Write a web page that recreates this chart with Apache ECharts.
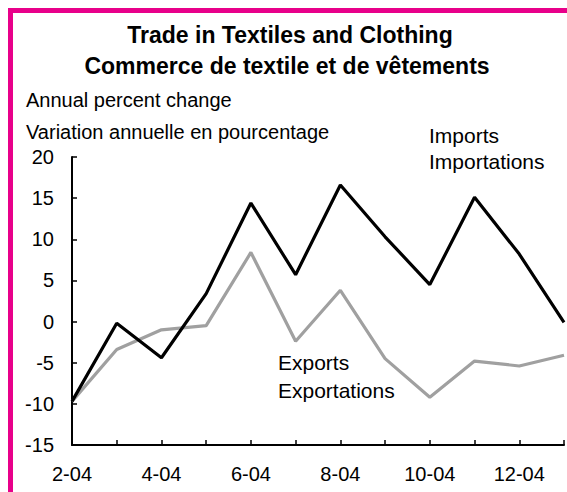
<!DOCTYPE html>
<html>
<head>
<meta charset="utf-8">
<script src="https://cdn.jsdelivr.net/npm/echarts@6/dist/echarts.min.js"></script>
<style>
  html, body { margin: 0; padding: 0; background: #ffffff; }
  #frame { position: absolute; left: 0; top: 0; width: 567px; height: 492px; }
  #bar-left { position: absolute; left: 8px; top: 8px; width: 5px; height: 484px; background: #e8008a; }
  #bar-top { position: absolute; left: 8px; top: 8px; width: 559px; height: 5px; background: #e8008a; }
  #chart { position: absolute; left: 0; top: 0; width: 567px; height: 492px; }
</style>
</head>
<body>
<div id="frame">
  <div id="chart"></div>
  <div id="bar-left"></div>
  <div id="bar-top"></div>
</div>
<script>
// Months of 2004 (month-year)
var categories = ['2-04', '3-04', '4-04', '5-04', '6-04', '7-04', '8-04', '9-04', '10-04', '11-04', '12-04', '13-04'];
// Annual percent change, imports
var imports = [-9.7, -0.2, -4.4, 3.4, 14.4, 5.7, 16.6, 10.3, 4.5, 15.1, 8.2, -0.1];
// Annual percent change, exports
var exports = [-9.7, -3.4, -1.0, -0.5, 8.4, -2.4, 3.8, -4.5, -9.2, -4.8, -5.4, -4.1];
// Value axis ticks
var yTicks = { min: -15, max: 20, step: 5 };

var titleLines = ['Trade in Textiles and Clothing', 'Commerce de textile et de vêtements'];
var unitLines = ['Annual percent change', 'Variation annuelle en pourcentage'];
var importLabel = ['Imports', 'Importations'];
var exportLabel = ['Exports', 'Exportations'];

var FONT = '"Liberation Sans", Arial, sans-serif';

function txt(text, x, y, size, bold, align) {
  return {
    type: 'text',
    style: {
      text: text,
      x: x,
      y: y,
      fill: '#000000',
      font: (bold ? 'bold ' : '') + size + 'px ' + FONT,
      textAlign: align || 'left',
      textVerticalAlign: 'middle'
    },
    silent: true
  };
}

var chart = echarts.init(document.getElementById('chart'), null, { renderer: 'svg' });

chart.setOption({
  backgroundColor: '#ffffff',
  animation: false,
  grid: { left: 72, top: 157, right: 3, bottom: 47, containLabel: false },
  xAxis: {
    type: 'category',
    data: categories,
    boundaryGap: false,
    axisLine: { onZero: false, lineStyle: { color: '#000000', width: 2 } },
    axisTick: { show: true, inside: true, length: 5, interval: 0, lineStyle: { color: '#000000', width: 1.5 } },
    axisLabel: { interval: 1, margin: 19, color: '#000000', fontSize: 20, fontFamily: FONT },
    splitLine: { show: false }
  },
  yAxis: {
    type: 'value',
    min: yTicks.min,
    max: yTicks.max,
    interval: yTicks.step,
    axisLine: { show: true, lineStyle: { color: '#000000', width: 2 } },
    axisTick: { show: true, inside: true, length: 5, lineStyle: { color: '#000000', width: 1.5 } },
    axisLabel: { margin: 18, color: '#000000', fontSize: 20, fontFamily: FONT },
    splitLine: { show: false }
  },
  series: [
    {
      name: 'Exports',
      type: 'line',
      data: exports,
      symbol: 'none',
      lineStyle: { color: '#a0a0a0', width: 3.2 },
      z: 2
    },
    {
      name: 'Imports',
      type: 'line',
      data: imports,
      symbol: 'none',
      lineStyle: { color: '#000000', width: 3.2 },
      z: 3
    }
  ],
  graphic: [
    txt(titleLines[0], 290, 35, 23, true, 'center'),
    txt(titleLines[1], 287, 66, 23, true, 'center'),
    txt(unitLines[0], 26, 100, 20, false),
    txt(unitLines[1], 26, 132, 20, false),
    txt(importLabel[0], 429, 135, 21, false),
    txt(importLabel[1], 429, 161, 21, false),
    txt(exportLabel[0], 278, 362, 21, false),
    txt(exportLabel[1], 278, 390, 21, false)
  ]
});
</script>
</body>
</html>
